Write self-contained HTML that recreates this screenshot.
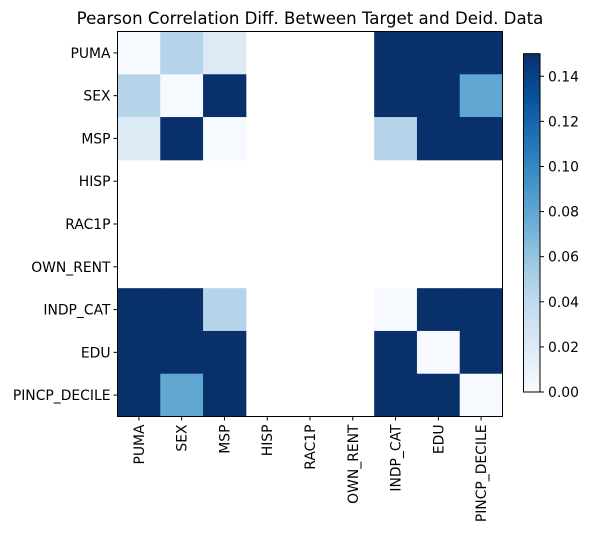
<!DOCTYPE html>
<html><head><meta charset="utf-8"><style>
body{margin:0;background:#fff;font-family:"DejaVu Sans","Liberation Sans",sans-serif}
</style></head><body>
<svg id="c" width="590" height="533" xmlns="http://www.w3.org/2000/svg" font-family="DejaVu Sans, Liberation Sans, sans-serif">
<defs><linearGradient id="cg" x1="0" y1="1" x2="0" y2="0">
<stop offset="0" stop-color="#f7fbff"/><stop offset="0.125" stop-color="#deebf7"/><stop offset="0.25" stop-color="#c6dbef"/><stop offset="0.375" stop-color="#9ecae1"/><stop offset="0.5" stop-color="#6baed6"/><stop offset="0.625" stop-color="#4292c6"/><stop offset="0.75" stop-color="#2171b5"/><stop offset="0.875" stop-color="#08519c"/><stop offset="1" stop-color="#08306b"/></linearGradient></defs>
<text x="310" y="24" font-size="16.6" text-anchor="middle">Pearson Correlation Diff. Between Target and Deid. Data</text>
<g id="cells"></g><g id="axes"></g>
<rect x="523.5" y="53.7" width="16.5" height="338.3" fill="url(#cg)" stroke="#000" stroke-width="1"/>
<g id="cb"></g>
</svg>
<script>
const labels=["PUMA","SEX","MSP","HISP","RAC1P","OWN_RENT","INDP_CAT","EDU","PINCP_DECILE"];
const N=null;
const row0=[0.001,0.045,0.02,N,N,N,0.2,0.2,0.2];
const row1=[0.045,0.001,0.2,N,N,N,0.2,0.2,0.08];
const row2=[0.02,0.2,0.001,N,N,N,0.045,0.2,0.2];
const row3=[N,N,N,N,N,N,N,N,N];
const row4=[N,N,N,N,N,N,N,N,N];
const row5=[N,N,N,N,N,N,N,N,N];
const row6=[0.2,0.2,0.045,N,N,N,0.001,0.2,0.2];
const row7=[0.2,0.2,0.2,N,N,N,0.2,0.001,0.2];
const row8=[0.2,0.08,0.2,N,N,N,0.2,0.2,0.001];
const values=[row0,row1,row2,row3,row4,row5,row6,row7,row8];
const cbTicks=[0,0.02,0.04,0.06,0.08,0.1,0.12,0.14];
const vmax=0.15;
const X0=117.5,Y0=31.5,S=385/9;
const stops=["#f7fbff","#deebf7","#c6dbef","#9ecae1","#6baed6","#4292c6","#2171b5","#08519c","#08306b"];
function hex(h){return [1,3,5].map(i=>parseInt(h.substr(i,2),16));}
function color(v){let t=Math.max(0,Math.min(1,v/vmax))*8;let i=Math.min(7,Math.floor(t)),f=t-i;
const a=hex(stops[i]),b=hex(stops[i+1]);return "rgb("+a.map((x,k)=>Math.round(x+(b[k]-x)*f)).join(",")+")";}
const ns="http://www.w3.org/2000/svg";
function mk(t,at,p){const e=document.createElementNS(ns,t);for(const k in at)e.setAttribute(k,at[k]);p.appendChild(e);return e;}
const cells=document.getElementById("cells"),axes=document.getElementById("axes"),cb=document.getElementById("cb");
values.forEach((r,i)=>r.forEach((v,j)=>{if(v===null)return;
const e=mk("rect",{x:X0+j*S,y:Y0+i*S,width:S+0.5,height:S+0.5,fill:color(v)},cells);

}));
const fr=mk("rect",{x:X0,y:Y0,width:385,height:385,fill:"none",stroke:"#000","stroke-width":1},axes);


labels.forEach((l,i)=>{const c=Y0+(i+0.5)*S;
mk("line",{x1:X0-4,x2:X0,y1:c,y2:c,stroke:"#000"},axes);
const t=mk("text",{x:X0-7,y:c+5,"font-size":13.9,"text-anchor":"end"},axes);t.textContent=l;


const cx=X0+(i+0.5)*S;
mk("line",{x1:cx,x2:cx,y1:Y0+385,y2:Y0+389,stroke:"#000"},axes);
const u=mk("text",{x:0,y:0,"font-size":13.9,"text-anchor":"end",transform:`translate(${cx+5},${Y0+393}) rotate(-90)`},axes);u.textContent=l;

});
cbTicks.forEach(v=>{const y=392-v/vmax*338.3;
mk("line",{x1:540,x2:544,y1:y,y2:y,stroke:"#000"},cb);
const t=mk("text",{x:548,y:y+5,"font-size":13.9},cb);t.textContent=v.toFixed(2);

});
</script>
</body></html>
